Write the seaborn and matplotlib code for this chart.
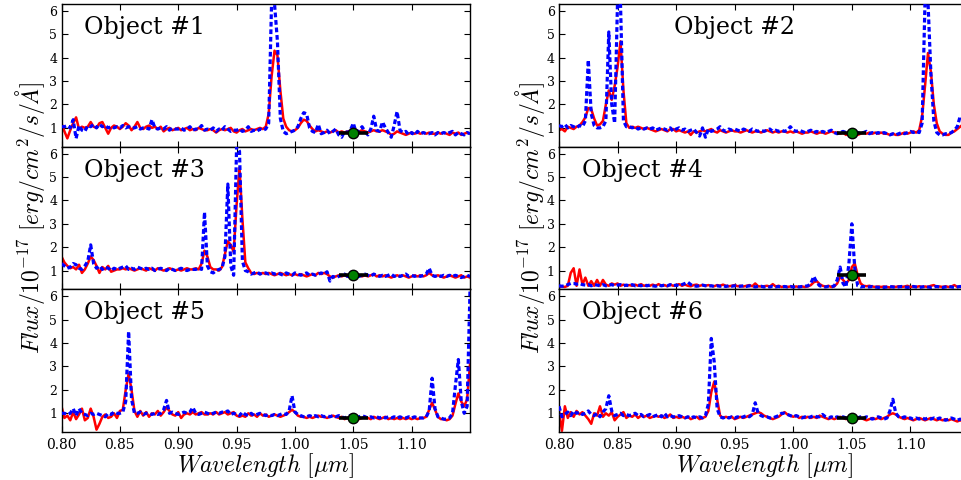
import numpy as np
import matplotlib
matplotlib.use("Agg")
import matplotlib.pyplot as plt
import seaborn as sns

# Spectral sampling: 0.80-1.15 micron in 0.0025 micron steps (141 pixels)
wavelength = np.round(np.linspace(0.80, 1.15, 141), 4)

# Object 1
obj1_red = [
    1.20, 0.85, 0.55, 0.90, 1.20, 1.45, 0.95, 1.05, 1.00, 1.05,
    1.25, 1.05, 1.00, 1.20, 1.25, 1.00, 0.75, 1.00, 1.10, 1.05,
    0.95, 1.05, 1.20, 1.10, 0.90, 1.05, 1.25, 1.00, 0.95, 1.05,
    1.10, 1.00, 1.05, 0.95, 1.05, 0.85, 0.95, 1.00, 0.90, 0.95,
    1.00, 0.90, 0.95, 1.00, 0.90, 0.95, 0.90, 1.00, 0.95, 0.90,
    0.90, 0.95, 0.90, 0.80, 0.90, 0.95, 0.90, 0.95, 1.00, 0.85,
    0.80, 0.90, 0.95, 0.85, 0.90, 0.95, 0.90, 0.95, 1.00, 0.95,
    1.05, 1.60, 3.20, 4.30, 4.10, 2.60, 1.40, 1.05, 0.90, 0.85,
    0.90, 1.00, 1.20, 1.35, 1.30, 1.10, 0.95, 0.85, 0.90, 0.85,
    0.80, 0.85, 0.80, 0.85, 0.90, 0.80, 0.85, 0.80, 0.85, 0.80,
    0.85, 0.80, 0.85, 0.90, 0.85, 0.80, 0.85, 0.90, 0.85, 0.85,
    0.90, 0.85, 0.80, 0.70, 0.75, 0.85, 0.80, 0.75, 0.70, 0.75,
    0.80, 0.75, 0.80, 0.75, 0.80, 0.75, 0.80, 0.75, 0.75, 0.80,
    0.75, 0.80, 0.75, 0.70, 0.80, 0.75, 0.80, 0.70, 0.75, 0.80,
    0.75]
obj1_blue = [
    1.05, 1.05, 1.10, 1.00, 1.35, 0.55, 1.10, 0.90, 0.85, 1.10,
    1.05, 1.15, 1.00, 1.15, 1.05, 1.10, 1.00, 1.05, 1.00, 1.05,
    1.00, 1.10, 1.00, 1.05, 1.00, 1.00, 1.05, 0.95, 1.00, 1.00,
    0.95, 1.35, 1.00, 0.95, 1.00, 0.95, 1.05, 0.90, 1.00, 0.95,
    0.95, 1.00, 0.90, 0.95, 1.05, 0.90, 0.95, 0.95, 1.10, 0.90,
    0.95, 0.90, 1.00, 0.85, 0.95, 0.90, 1.05, 0.95, 0.85, 0.90,
    0.90, 0.95, 0.85, 0.90, 1.05, 0.85, 0.90, 0.85, 0.95, 0.90,
    0.95, 1.20, 6.40, 6.30, 4.70, 1.40, 0.85, 0.75, 0.80, 0.85,
    0.90, 1.05, 1.40, 1.65, 1.60, 1.00, 0.85, 0.80, 1.15, 0.75,
    0.80, 0.90, 0.75, 0.85, 0.95, 0.70, 0.60, 0.85, 0.80, 0.90,
    1.20, 0.80, 0.90, 1.05, 0.85, 0.70, 0.95, 1.50, 0.90, 0.85,
    1.25, 1.00, 0.80, 0.60, 1.10, 1.70, 0.90, 0.80, 0.85, 0.70,
    0.80, 0.70, 0.85, 0.75, 0.80, 0.75, 0.75, 0.80, 0.70, 0.80,
    0.75, 0.80, 0.75, 0.80, 0.85, 0.70, 0.80, 0.75, 0.70, 0.80,
    0.75]

# Object 2
obj2_red = [
    0.90, 0.95, 0.85, 1.05, 1.00, 0.95, 1.05, 1.10, 1.25, 1.45,
    1.85, 1.80, 1.40, 1.10, 1.15, 1.30, 2.00, 2.60, 2.20, 2.80,
    3.60, 4.70, 2.60, 1.20, 1.00, 1.05, 1.00, 1.05, 1.00, 0.95,
    1.00, 0.95, 0.90, 0.85, 0.90, 0.95, 0.90, 0.85, 0.95, 0.95,
    0.85, 0.90, 0.85, 0.80, 0.85, 0.70, 0.85, 0.80, 0.85, 0.90,
    0.85, 0.90, 0.95, 0.85, 0.80, 0.90, 0.85, 0.80, 0.85, 0.90,
    0.85, 0.85, 0.80, 0.85, 0.90, 0.85, 0.80, 0.85, 0.85, 0.80,
    0.85, 0.90, 0.85, 0.80, 0.85, 0.80, 0.85, 0.85, 0.80, 0.85,
    0.80, 0.85, 0.80, 0.75, 0.80, 0.80, 0.85, 0.80, 0.75, 0.80,
    0.80, 0.75, 0.80, 0.85, 0.80, 0.80, 0.75, 0.80, 0.70, 0.75,
    0.80, 0.75, 0.70, 0.75, 0.80, 0.75, 0.80, 0.75, 0.80, 0.75,
    0.80, 0.75, 0.75, 0.70, 0.75, 0.70, 0.70, 0.75, 0.80, 0.75,
    0.80, 0.85, 0.80, 0.90, 1.50, 2.80, 4.20, 3.40, 2.00, 1.20,
    0.85, 0.75, 0.70, 0.70, 0.80, 0.85, 0.95, 1.05, 1.15, 1.20,
    1.25]
obj2_blue = [
    1.10, 1.05, 1.15, 1.00, 1.10, 1.05, 1.00, 1.10, 1.05, 1.30,
    3.90, 1.60, 1.10, 1.00, 1.00, 1.05, 1.30, 5.10, 2.00, 1.20,
    6.50, 6.30, 1.30, 1.05, 1.05, 1.00, 1.05, 0.95, 1.00, 0.95,
    1.00, 0.95, 1.00, 0.90, 0.95, 1.00, 0.95, 0.90, 1.00, 0.85,
    0.95, 1.00, 0.90, 0.95, 0.85, 0.90, 0.95, 0.80, 0.65, 1.00,
    0.60, 0.95, 0.85, 0.90, 0.95, 1.05, 0.90, 0.85, 0.95, 0.90,
    0.95, 0.90, 0.85, 0.95, 0.90, 0.85, 0.95, 0.90, 0.85, 0.90,
    0.85, 0.90, 0.95, 0.85, 0.90, 0.85, 0.90, 0.85, 0.90, 1.05,
    0.90, 0.85, 0.90, 0.85, 0.80, 0.85, 0.90, 0.80, 0.85, 0.80,
    0.85, 0.80, 0.85, 0.90, 0.80, 0.75, 0.80, 0.85, 0.80, 0.75,
    0.80, 0.85, 0.80, 0.75, 0.80, 0.85, 0.75, 0.80, 0.75, 0.80,
    0.75, 0.80, 0.75, 0.70, 0.75, 0.70, 0.75, 0.80, 0.75, 0.80,
    0.85, 0.80, 0.85, 0.80, 1.20, 6.50, 6.40, 3.30, 1.30, 0.80,
    0.70, 0.70, 0.75, 0.75, 0.80, 0.90, 1.05, 1.50, 1.40, 1.30,
    1.25]

# Object 3
obj3_red = [
    1.60, 1.35, 1.20, 1.10, 1.15, 1.05, 1.25, 0.90, 1.05, 1.30,
    1.60, 1.45, 1.20, 0.90, 1.15, 1.05, 1.20, 0.95, 1.00, 1.05,
    1.05, 1.10, 1.05, 1.10, 1.05, 1.00, 1.05, 1.10, 1.05, 1.00,
    1.10, 1.05, 1.00, 1.10, 1.05, 1.00, 1.05, 1.10, 1.05, 1.00,
    1.05, 1.00, 1.05, 1.10, 1.05, 1.05, 1.10, 1.05, 1.30, 1.85,
    1.60, 1.15, 1.05, 1.05, 1.00, 1.15, 1.70, 2.25, 2.10, 1.80,
    3.80, 5.40, 3.20, 1.35, 1.10, 0.90, 0.85, 0.90, 0.85, 0.90,
    0.85, 0.90, 0.85, 0.80, 0.85, 0.90, 0.85, 0.80, 0.85, 0.80,
    0.85, 0.80, 0.85, 0.80, 0.75, 0.80, 0.85, 0.80, 0.90, 0.85,
    0.90, 0.85, 0.75, 0.70, 0.75, 0.80, 0.75, 0.80, 0.75, 0.75,
    0.80, 0.75, 0.80, 0.75, 0.80, 0.75, 0.80, 0.85, 0.75, 0.80,
    0.75, 0.80, 0.75, 0.70, 0.75, 0.80, 0.75, 0.80, 0.75, 0.70,
    0.75, 0.80, 0.75, 0.80, 0.75, 0.80, 0.90, 0.80, 0.75, 0.80,
    0.75, 0.70, 0.75, 0.80, 0.75, 0.70, 0.75, 0.80, 0.70, 0.75,
    0.70]
obj3_blue = [
    1.30, 1.20, 1.10, 1.15, 1.30, 1.25, 1.10, 1.05, 1.20, 1.40,
    2.10, 1.30, 1.10, 1.20, 1.05, 1.15, 1.10, 1.00, 1.10, 1.05,
    1.10, 1.15, 1.20, 1.05, 1.10, 1.05, 1.15, 1.10, 1.05, 1.10,
    1.05, 1.10, 1.00, 1.05, 1.10, 1.05, 1.00, 1.10, 1.05, 1.00,
    1.05, 1.10, 1.05, 1.00, 1.05, 1.05, 1.05, 1.10, 1.05, 3.50,
    1.20, 0.95, 0.90, 1.00, 1.05, 1.10, 1.60, 4.70, 1.20, 0.80,
    6.30, 6.10, 1.40, 1.00, 0.95, 0.85, 0.90, 0.95, 0.85, 0.90,
    0.90, 0.85, 0.90, 0.85, 0.90, 0.85, 0.80, 0.90, 0.85, 0.80,
    0.90, 0.85, 0.80, 0.85, 0.90, 0.80, 0.85, 0.80, 0.85, 0.90,
    0.85, 0.95, 0.55, 0.75, 0.70, 0.75, 0.80, 0.85, 0.75, 0.80,
    0.85, 0.80, 0.75, 0.80, 0.85, 0.80, 0.75, 0.85, 0.80, 0.75,
    0.80, 0.75, 0.80, 0.85, 0.75, 0.80, 0.75, 0.80, 0.85, 0.75,
    0.80, 0.75, 0.80, 0.75, 0.80, 0.85, 1.10, 0.80, 0.75, 0.80,
    0.75, 0.80, 0.75, 0.80, 0.75, 0.80, 0.75, 0.70, 0.75, 0.80,
    0.75]

# Object 4
obj4_red = [
    0.30, 0.32, 0.30, 0.35, 0.90, 1.10, 0.35, 1.05, 0.40, 0.70,
    0.35, 0.55, 0.35, 0.60, 0.35, 0.60, 0.40, 0.35, 0.45, 0.40,
    0.45, 0.35, 0.40, 0.35, 0.38, 0.35, 0.40, 0.35, 0.42, 0.35,
    0.38, 0.35, 0.40, 0.35, 0.42, 0.35, 0.38, 0.33, 0.40, 0.35,
    0.38, 0.42, 0.35, 0.40, 0.35, 0.33, 0.38, 0.40, 0.35, 0.38,
    0.35, 0.38, 0.35, 0.33, 0.38, 0.35, 0.40, 0.35, 0.33, 0.35,
    0.38, 0.33, 0.35, 0.32, 0.35, 0.38, 0.33, 0.45, 0.33, 0.32,
    0.33, 0.35, 0.32, 0.42, 0.32, 0.35, 0.30, 0.32, 0.30, 0.32,
    0.30, 0.32, 0.30, 0.32, 0.30, 0.32, 0.38, 0.50, 0.55, 0.42,
    0.35, 0.32, 0.35, 0.30, 0.32, 0.45, 0.75, 0.60, 0.45, 0.60,
    1.15, 1.30, 0.80, 0.45, 0.35, 0.33, 0.35, 0.32, 0.30, 0.32,
    0.30, 0.32, 0.30, 0.28, 0.32, 0.30, 0.33, 0.30, 0.32, 0.35,
    0.30, 0.32, 0.30, 0.33, 0.30, 0.32, 0.30, 0.35, 0.38, 0.30,
    0.32, 0.30, 0.33, 0.30, 0.32, 0.38, 0.30, 0.32, 0.35, 0.30,
    0.32]
obj4_blue = [
    0.35, 0.33, 0.35, 0.40, 0.45, 0.45, 0.42, 0.45, 0.40, 0.38,
    0.40, 0.35, 0.40, 0.38, 0.35, 0.40, 0.35, 0.38, 0.40, 0.35,
    0.38, 0.40, 0.35, 0.38, 0.35, 0.40, 0.35, 0.38, 0.35, 0.40,
    0.35, 0.38, 0.35, 0.33, 0.38, 0.35, 0.38, 0.35, 0.40, 0.35,
    0.38, 0.35, 0.40, 0.45, 0.50, 0.40, 0.35, 0.33, 0.35, 0.38,
    0.35, 0.33, 0.35, 0.32, 0.35, 0.33, 0.35, 0.32, 0.35, 0.33,
    0.35, 0.32, 0.33, 0.35, 0.32, 0.35, 0.33, 0.30, 0.32, 0.33,
    0.30, 0.32, 0.30, 0.33, 0.30, 0.32, 0.30, 0.32, 0.30, 0.32,
    0.30, 0.32, 0.30, 0.32, 0.33, 0.35, 0.45, 0.75, 0.50, 0.35,
    0.32, 0.30, 0.32, 0.30, 0.35, 0.60, 1.15, 0.45, 0.30, 1.30,
    3.00, 1.10, 0.35, 0.30, 0.32, 0.30, 0.30, 0.32, 0.30, 0.28,
    0.30, 0.28, 0.30, 0.32, 0.30, 0.28, 0.30, 0.32, 0.30, 0.28,
    0.30, 0.32, 0.30, 0.28, 0.30, 0.32, 0.30, 0.28, 0.30, 0.32,
    0.30, 0.28, 0.30, 0.32, 0.30, 0.28, 0.30, 0.32, 0.30, 0.28,
    0.30]

# Object 5
obj5_red = [
    1.30, 0.80, 0.90, 0.70, 1.05, 0.75, 0.95, 1.20, 0.70, 0.80,
    1.20, 0.85, 0.30, 0.55, 0.85, 0.95, 0.80, 0.85, 1.00, 0.80,
    1.10, 1.15, 2.00, 2.70, 2.00, 1.10, 0.85, 1.10, 0.90, 1.05,
    0.85, 1.00, 0.95, 1.10, 0.90, 1.05, 1.25, 1.10, 0.95, 0.90,
    1.05, 0.80, 0.95, 1.00, 0.95, 1.05, 0.95, 1.00, 1.05, 0.95,
    0.95, 1.00, 0.95, 1.05, 0.95, 1.00, 1.05, 0.95, 1.00, 1.05,
    0.90, 0.85, 0.90, 0.85, 1.00, 0.90, 0.95, 0.85, 1.00, 0.90,
    0.95, 0.85, 0.90, 0.95, 0.90, 0.85, 0.90, 0.95, 1.05, 1.15,
    1.05, 0.90, 0.85, 0.85, 0.80, 0.85, 0.80, 0.85, 0.90, 0.85,
    0.85, 0.80, 0.85, 0.90, 0.85, 0.80, 0.85, 0.75, 0.80, 0.85,
    0.80, 0.85, 0.75, 0.80, 0.85, 0.80, 0.75, 0.85, 0.80, 0.75,
    0.80, 0.85, 0.75, 0.80, 0.75, 0.80, 0.75, 0.80, 0.75, 0.80,
    0.75, 0.80, 0.75, 0.80, 0.80, 0.85, 1.15, 1.45, 1.15, 0.85,
    0.75, 0.75, 0.70, 0.75, 0.90, 1.40, 1.85, 1.50, 1.30, 1.60,
    3.10]
obj5_blue = [
    1.00, 1.00, 0.95, 1.00, 1.20, 0.90, 1.20, 1.00, 0.95, 0.90,
    1.00, 0.95, 1.00, 0.95, 0.90, 0.85, 1.00, 0.95, 1.05, 1.00,
    1.00, 1.05, 1.50, 4.50, 1.60, 1.00, 1.00, 1.05, 0.95, 1.00,
    1.00, 0.95, 1.00, 0.95, 1.00, 1.15, 1.55, 1.00, 1.05, 1.00,
    0.95, 1.00, 1.05, 1.00, 1.05, 1.25, 1.00, 0.95, 1.00, 1.05,
    1.00, 0.95, 1.00, 1.05, 1.00, 1.05, 1.05, 1.10, 0.95, 1.00,
    0.95, 0.90, 1.05, 0.95, 0.90, 1.00, 0.90, 0.95, 1.00, 0.95,
    0.90, 0.95, 0.90, 0.95, 0.90, 0.95, 1.00, 0.95, 1.10, 1.75,
    1.05, 0.95, 0.90, 0.85, 0.85, 0.90, 0.85, 0.90, 0.85, 0.90,
    0.85, 0.90, 0.85, 0.90, 0.85, 0.90, 0.85, 0.80, 0.85, 0.90,
    0.85, 0.80, 0.85, 0.90, 0.85, 0.80, 0.85, 0.80, 0.85, 0.80,
    0.85, 0.80, 0.85, 0.80, 0.85, 0.80, 0.85, 0.80, 0.80, 0.85,
    0.80, 0.85, 0.80, 0.80, 0.80, 0.85, 1.10, 2.50, 1.20, 0.85,
    0.80, 0.75, 0.75, 0.80, 1.00, 2.20, 3.30, 1.50, 1.00, 1.30,
    6.30]

# Object 6
obj6_red = [
    1.10, 0.25, 1.30, 0.80, 1.05, 0.85, 1.10, 0.95, 1.05, 0.90,
    0.75, 0.55, 1.00, 0.90, 1.30, 0.85, 1.00, 0.90, 1.05, 0.70,
    0.85, 0.95, 1.05, 0.80, 0.90, 0.85, 0.95, 0.80, 0.90, 0.85,
    0.90, 0.80, 0.85, 0.90, 0.85, 0.90, 0.80, 0.85, 0.95, 0.80,
    0.85, 0.80, 0.85, 0.80, 0.85, 0.75, 0.80, 0.85, 0.75, 0.80,
    0.85, 1.10, 1.90, 2.35, 1.60, 0.90, 0.80, 0.85, 0.80, 0.85,
    0.75, 0.80, 0.85, 0.80, 0.85, 0.90, 0.95, 1.00, 1.05, 1.00,
    0.90, 0.85, 0.80, 0.75, 0.80, 0.85, 0.95, 1.05, 0.95, 0.90,
    0.85, 0.90, 0.80, 0.85, 0.80, 0.85, 0.80, 0.85, 0.80, 0.90,
    0.85, 0.80, 0.75, 0.80, 0.75, 0.80, 0.85, 0.80, 0.75, 0.80,
    0.75, 0.80, 0.75, 0.80, 0.75, 0.70, 0.75, 0.80, 0.75, 0.80,
    0.75, 0.80, 0.85, 0.95, 1.00, 0.95, 0.85, 0.80, 0.75, 0.80,
    0.75, 0.70, 0.75, 0.80, 0.75, 0.70, 0.75, 0.80, 0.75, 0.70,
    0.75, 0.70, 0.75, 0.70, 0.75, 0.70, 0.65, 0.70, 0.65, 0.60,
    0.55]
obj6_blue = [
    1.30, 0.85, 0.95, 1.05, 0.90, 1.10, 1.00, 1.05, 0.95, 1.00,
    1.10, 0.95, 0.90, 1.00, 0.85, 1.05, 1.20, 1.75, 1.10, 0.90,
    0.95, 1.00, 0.90, 0.95, 0.90, 0.95, 1.00, 0.90, 0.95, 0.85,
    0.90, 0.95, 0.85, 0.90, 0.95, 0.85, 1.00, 0.85, 0.90, 0.85,
    0.85, 0.90, 0.85, 0.80, 0.85, 0.80, 0.85, 0.80, 0.85, 0.80,
    0.90, 1.40, 4.20, 3.20, 1.20, 0.85, 0.80, 0.85, 0.80, 0.85,
    0.80, 0.85, 0.80, 0.85, 0.90, 0.85, 0.95, 1.45, 1.00, 0.90,
    0.85, 0.85, 0.80, 0.80, 0.85, 0.90, 1.00, 1.00, 0.95, 0.90,
    0.85, 0.90, 0.85, 0.80, 0.85, 0.80, 0.85, 0.90, 0.85, 0.85,
    0.95, 0.85, 0.80, 0.85, 0.80, 0.85, 0.80, 0.85, 0.80, 0.85,
    0.80, 0.85, 0.80, 0.85, 0.80, 0.85, 0.80, 0.75, 0.80, 0.85,
    0.80, 0.75, 0.80, 1.10, 1.60, 1.00, 0.85, 0.80, 0.85, 0.80,
    0.80, 0.75, 0.80, 0.75, 0.80, 0.75, 0.80, 0.75, 0.80, 0.75,
    0.80, 0.75, 0.70, 0.75, 0.80, 0.75, 0.70, 0.75, 0.70, 0.75,
    0.70]

# Photometric point shown in every panel
phot_wave = 1.05
phot_flux = 0.8
phot_halfwidth = 0.0125

object_names = ["Object #1", "Object #2", "Object #3",
                "Object #4", "Object #5", "Object #6"]
red_series = [obj1_red, obj2_red, obj3_red, obj4_red, obj5_red, obj6_red]
blue_series = [obj1_blue, obj2_blue, obj3_blue, obj4_blue, obj5_blue, obj6_blue]
name_x = [0.055, 0.28, 0.055, 0.055, 0.055, 0.055]

xtick_values = [0.80, 0.85, 0.90, 0.95, 1.00, 1.05, 1.10]
xtick_labels = ["0.80", "0.85", "0.90", "0.95", "1.00", "1.05", "1.10"]
ytick_values = [1, 2, 3, 4, 5, 6]

sns.set_style("ticks")
plt.rcParams["font.family"] = ["DejaVu Serif"]
plt.rcParams["mathtext.fontset"] = "cm"
plt.rcParams["lines.scale_dashes"] = False
plt.rcParams["text.color"] = "black"
plt.rcParams["axes.labelcolor"] = "black"
plt.rcParams["xtick.color"] = "black"
plt.rcParams["ytick.color"] = "black"

fig = plt.figure(figsize=(9.61, 4.80), dpi=100)

col_left = [0.0640, 0.5817]
col_width = [0.4251, 0.4266]
row_height = 0.2973
row_bottom = [0.6946, 0.3973, 0.1000]

for k in range(6):
    row, col = divmod(k, 2)
    ax = fig.add_axes([col_left[col], row_bottom[row], col_width[col], row_height])

    sns.lineplot(x=wavelength, y=red_series[k], ax=ax, color="#ff0000",
                 linewidth=1.8, zorder=2)
    sns.lineplot(x=wavelength, y=blue_series[k], ax=ax, color="#0000ff",
                 linewidth=2.3, linestyle=(0, (3.4, 2.0)), zorder=3)
    ax.errorbar(phot_wave, phot_flux, xerr=phot_halfwidth, fmt="o",
                color="black", mfc="#008000", mec="black", mew=1.0, ms=7.5,
                elinewidth=2.6, capsize=0, zorder=5)

    ax.set_xlim(0.80, 1.15)
    ax.set_ylim(0.2, 6.3)
    ax.set_xticks(xtick_values)
    ax.set_yticks(ytick_values)
    ax.tick_params(direction="in", top=True, right=True, length=4,
                   width=0.8, colors="black", labelcolor="black")
    ax.tick_params(axis="y", labelsize=9, pad=3)
    ax.tick_params(axis="x", labelsize=10, pad=4)
    if row == 2:
        ax.set_xticklabels(xtick_labels)
        ax.set_xlabel(r"$Wavelength\ [\mu m]$", fontsize=17, labelpad=0,
                      color="black")
    else:
        ax.set_xticklabels([])
    for spine in ax.spines.values():
        spine.set_linewidth(1.0)
        spine.set_color("black")
    ax.set_ylabel("")
    ax.text(name_x[k], 0.79, object_names[k], transform=ax.transAxes,
            fontsize=17, va="baseline", ha="left", color="black", zorder=6)

ylab = r"$Flux/10^{-17}\ [erg/cm^2/s/\AA]$"
fig.text(0.031, 0.546, ylab, rotation=90, ha="center", va="center",
         fontsize=17, color="black")
fig.text(0.551, 0.546, ylab, rotation=90, ha="center", va="center",
         fontsize=17, color="black")

fig.savefig("out.png", dpi=100)
